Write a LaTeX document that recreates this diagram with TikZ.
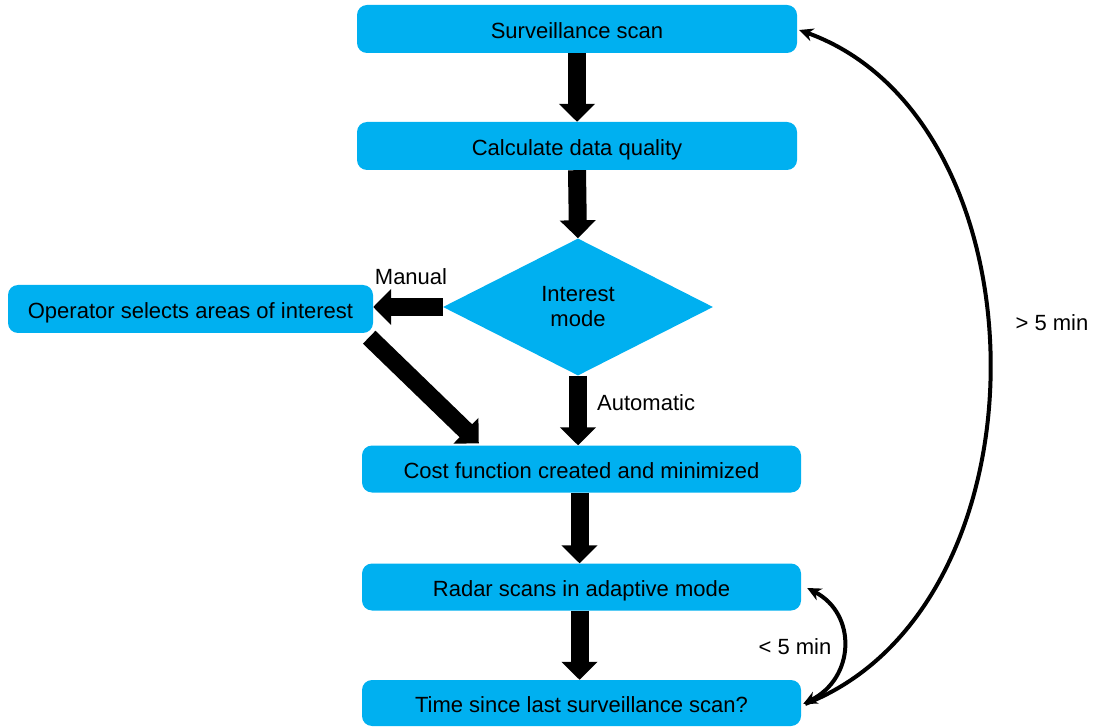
\documentclass[tikz,border=0pt]{standalone}
\usepackage{fontspec}
\setmainfont{Liberation Sans}
\usetikzlibrary{shapes.geometric,arrows.meta}
\definecolor{boxblue}{RGB}{0,176,240}
\begin{document}
\begin{tikzpicture}[x=1pt,y=-1pt,
  every node/.append style={font=\fontsize{22}{25}\selectfont},
  box/.style={fill=boxblue, rounded corners=10pt, minimum width=440pt,
    minimum height=47pt, inner sep=0pt, text height=19pt, text depth=0pt},
  decision/.style={diamond, fill=boxblue, aspect=2, minimum width=270pt,
    minimum height=137pt, inner sep=0pt, align=center},
  blockarrow/.style={line width=18pt, -{Triangle[width=35pt,length=18pt]}},
  looparrow/.style={line width=4pt, -{Stealth[length=14pt,width=13pt]}},
  bothloop/.style={line width=4pt,
    {Stealth[length=14pt,width=13pt]}-{Stealth[length=14pt,width=13pt]}},
  lbl/.style={inner sep=0pt}]
\useasboundingbox (0,0) rectangle (1093,727);

% process boxes
\node[box, minimum height=48pt] (scan) at (577,29) {Surveillance scan};
\node[box, minimum height=48pt] (quality) at (577,146) {Calculate data quality};
\node[decision] (mode) at (578,307) {Interest\\mode};
\node[box, minimum width=365pt, minimum height=48pt] (operator) at (190.5,309)
  {Operator selects areas of interest};
\node[box, minimum width=439pt] (cost) at (581.5,469) {Cost function created and minimized};
\node[box, minimum width=439pt] (radar) at (581.5,587) {Radar scans in adaptive mode};
\node[box, minimum width=439pt, minimum height=46pt] (time) at (581.5,703)
  {Time since last surveillance scan?};

% main flow
\draw[blockarrow] (scan.south) -- (quality.north);
\draw[blockarrow] (quality.south) -- (mode.north);
\draw[blockarrow] (mode.west) -- (mode.west -| operator.east);
\draw[blockarrow] ([shift={(-4,4)}]operator.south east) -- ([shift={(117,-2)}]cost.north west);
\draw[blockarrow] (mode.south) -- (mode.south |- cost.north);
\draw[blockarrow] ([xshift=-2pt]cost.south) -- ([xshift=-2pt]radar.north);
\draw[blockarrow] ([xshift=-2pt]radar.south) -- ([xshift=-2pt]time.north);

% time-check loops
\draw[looparrow] ([shift={(4,1)}]time.east) .. controls +(250,-98) and +(250,90)
  .. ([shift={(2,1)}]scan.east);
\draw[bothloop] ([shift={(2,1)}]time.east) .. controls +(52,-26) and +(50,26)
  .. ([shift={(6,1)}]radar.east);

% labels
\node[lbl] (manual) at (411,277) {Manual};
\node[lbl, anchor=west] (automatic) at (597,403) {Automatic};
\node[lbl] (longer) at (1052,323) {> 5 min};
\node[lbl] (shorter) at (795,647) {< 5 min};
\end{tikzpicture}
\end{document}
